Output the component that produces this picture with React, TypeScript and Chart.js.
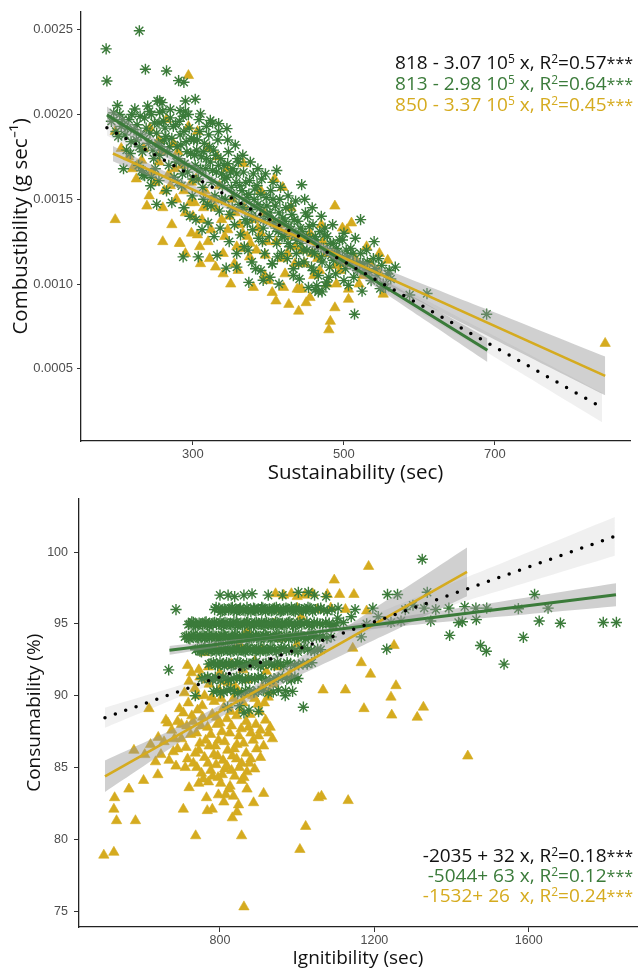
import React, { useEffect, useRef } from "react";
import { Chart, registerables } from "chart.js";
Chart.register(...registerables);

const GREEN = "#3b7b3a";
const GOLD = "#d5ab1f";
const BLACK = "#111111";

// ---------------- TOP PANEL DATA ----------------
const TOP_X_RANGE = [151.7, 878.9];
const TOP_Y_RANGE = [0.0000741, 0.002606];
const TOP_X_TICKS = [300, 500, 700];
const TOP_X_LABELS = ["300", "500", "700"];
const TOP_Y_TICKS = [0.0005, 0.001, 0.0015, 0.002, 0.0025];
const TOP_Y_LABELS = ["0.0005", "0.0010", "0.0015", "0.0020", "0.0025"];

const TOP_GREEN: number[][] = [
  [185, 0.002387], [186, 0.002198], [229, 0.002494], [237, 0.002267], [265, 0.002257], [281, 0.0022], [288, 0.00219],
  [200, 0.002053], [223, 0.002033], [242, 0.002018], [256, 0.00208], [259, 0.00207], [256, 0.002013], [283, 0.002023],
  [290, 0.00202], [290, 0.00208], [303, 0.00209], [310, 0.002004], [323, 0.001965], [334, 0.001946], [345, 0.001917],
  [444, 0.001586], [252, 0.00147], [234, 0.001644], [411, 0.00167], [232, 0.00167], [245, 0.00163], [255, 0.00161],
  [287, 0.00116], [307, 0.00116], [332, 0.00117], [344, 0.001094], [358, 0.0011], [374, 0.00101], [393, 0.001022],
  [383, 0.00109], [405, 0.00112], [433, 0.00105], [462, 0.000966], [514, 0.000822], [506, 0.000993], [524, 0.000958],
  [689, 0.000822], [610, 0.000944], [587, 0.000935], [560, 0.00108], [548, 0.000973], [521, 0.00112], [477, 0.001012],
  [471, 0.000954], [522, 0.00138], [466, 0.000954], [464, 0.00099],
  [192, 0.00196], [198, 0.0019], [205, 0.00193], [210, 0.00188], [215, 0.00197], [218, 0.00184], [203, 0.002],
  [212, 0.00179], [222, 0.00191], [208, 0.00168],
  [225, 0.00185], [230, 0.00199], [233, 0.00178], [238, 0.00192], [241, 0.00183], [245, 0.002], [248, 0.00174],
  [252, 0.00189], [255, 0.00195], [258, 0.00181], [228, 0.0017], [236, 0.00164], [244, 0.00158], [250, 0.00168],
  [256, 0.00176], [260, 0.00202], [240, 0.00205], [253, 0.00208], [262, 0.00185],
  [263, 0.00192], [266, 0.00178], [268, 0.0017], [270, 0.00198], [272, 0.00186], [275, 0.00163], [277, 0.00194],
  [279, 0.00181], [281, 0.00174], [283, 0.00188], [285, 0.00158], [287, 0.00199], [289, 0.00171], [291, 0.00184],
  [293, 0.00166], [295, 0.00192], [297, 0.00177], [299, 0.00152], [265, 0.00155], [272, 0.00148], [280, 0.0016],
  [288, 0.00145], [296, 0.0014], [270, 0.00203], [282, 0.00196], [294, 0.002],
  [301, 0.00185], [303, 0.0017], [305, 0.00179], [307, 0.00162], [309, 0.0019], [311, 0.00175], [313, 0.00157],
  [315, 0.00183], [317, 0.00168], [319, 0.00147], [321, 0.00188], [323, 0.00172], [325, 0.0016], [327, 0.00179],
  [329, 0.00152], [331, 0.00166], [333, 0.00185], [335, 0.00143], [337, 0.00174], [339, 0.00158], [304, 0.00138],
  [312, 0.00132], [320, 0.00136], [328, 0.00128], [336, 0.00133], [308, 0.00197], [318, 0.00193], [326, 0.00195],
  [334, 0.0019],
  [341, 0.0017], [343, 0.0015], [345, 0.00163], [347, 0.00178], [349, 0.00141], [351, 0.00157], [353, 0.00168],
  [355, 0.00135], [357, 0.0016], [359, 0.00174], [361, 0.00147], [363, 0.00129], [365, 0.00155], [367, 0.00166],
  [369, 0.00138], [371, 0.00151], [373, 0.0012], [375, 0.00161], [377, 0.00144], [379, 0.00132], [346, 0.00185],
  [356, 0.00182], [366, 0.00176], [376, 0.00172], [348, 0.00125], [358, 0.00118], [368, 0.00122], [378, 0.00113],
  [381, 0.0015], [383, 0.00139], [385, 0.00158], [387, 0.00127], [389, 0.00145], [391, 0.00162], [393, 0.00133],
  [395, 0.00118], [397, 0.00151], [399, 0.0014], [401, 0.00128], [403, 0.00155], [405, 0.00112], [407, 0.00136],
  [409, 0.00146], [411, 0.00124], [413, 0.00131], [415, 0.0015], [417, 0.00118], [419, 0.00139], [386, 0.00168],
  [396, 0.00165], [406, 0.0016], [416, 0.00157], [390, 0.00108], [402, 0.00104], [414, 0.001],
  [421, 0.00128], [423, 0.00145], [425, 0.00115], [427, 0.00134], [429, 0.00122], [431, 0.00141], [433, 0.00109],
  [435, 0.00129], [437, 0.00118], [439, 0.00137], [441, 0.00103], [443, 0.00124], [445, 0.00131], [447, 0.00113],
  [449, 0.00142], [451, 0.0012], [453, 0.00098], [455, 0.00127], [457, 0.0011], [459, 0.00135], [426, 0.00152],
  [436, 0.00149], [448, 0.0015], [458, 0.00145],
  [461, 0.00118], [463, 0.00126], [466, 0.00105], [468, 0.00131], [471, 0.00113], [473, 0.00121], [476, 0.00099],
  [478, 0.00128], [481, 0.0011], [483, 0.00117], [486, 0.00124], [489, 0.00106], [492, 0.00119], [495, 0.00113],
  [498, 0.00126], [502, 0.00109], [505, 0.00116], [509, 0.00121], [513, 0.00104], [517, 0.00112], [470, 0.0014],
  [485, 0.00135], [500, 0.0013], [515, 0.00127],
  [522, 0.00118], [527, 0.00108], [531, 0.00113], [536, 0.00102], [541, 0.00109], [546, 0.00115], [552, 0.001],
  [558, 0.00106],
  [195, 0.00201], [201, 0.00187], [207, 0.00197], [213, 0.00192], [219, 0.002], [226, 0.00194], [231, 0.00188],
  [236, 0.00198], [243, 0.00189], [249, 0.00195], [254, 0.00183], [261, 0.00196], [217, 0.00177], [229, 0.00181],
  [247, 0.00179], [264, 0.00187], [269, 0.00181], [274, 0.00193], [278, 0.00172], [284, 0.00182], [288, 0.0019],
  [292, 0.00178], [298, 0.00186], [302, 0.00176], [306, 0.00185], [310, 0.00168], [314, 0.00178], [318, 0.00174],
  [322, 0.00181], [326, 0.00167], [330, 0.00176], [334, 0.0017], [338, 0.00165], [286, 0.00165], [300, 0.00162],
  [314, 0.0015], [324, 0.00146], [338, 0.0015], [342, 0.00162], [346, 0.00171], [350, 0.00166], [354, 0.00152],
  [358, 0.00165], [362, 0.00158], [366, 0.00145], [370, 0.0016], [374, 0.00153], [378, 0.0014], [382, 0.00156],
  [386, 0.00147], [390, 0.00153], [394, 0.00138], [398, 0.00146], [402, 0.00142], [406, 0.0015], [410, 0.00133],
  [414, 0.00142], [418, 0.00128], [352, 0.00145], [372, 0.00136], [392, 0.00125], [412, 0.00116], [360, 0.00172],
  [380, 0.00165], [422, 0.00137], [426, 0.00124], [430, 0.00132], [434, 0.00138], [438, 0.00126], [442, 0.00133],
  [446, 0.0012], [450, 0.00128], [454, 0.00134], [458, 0.00119], [462, 0.00128], [466, 0.00122], [470, 0.00116],
  [474, 0.00129], [478, 0.0012], [482, 0.00124], [486, 0.00114], [490, 0.00121], [494, 0.00126], [498, 0.00116],
  [503, 0.0012], [508, 0.00113], [512, 0.00118], [518, 0.00108], [440, 0.00112], [460, 0.00108], [480, 0.00104],
  [500, 0.00102], [430, 0.00146], [452, 0.0014], [475, 0.00133], [525, 0.00112], [530, 0.0012], [534, 0.00107],
  [539, 0.00115], [544, 0.00105], [550, 0.00111], [555, 0.00098], [562, 0.00103], [568, 0.0011], [540, 0.00125],
];

const TOP_GOLD: number[][] = [
  [197, 0.0019], [197, 0.00138], [243, 0.00192], [265, 0.00197], [294, 0.00223], [294, 0.00193], [306, 0.0019],
  [274, 0.00183], [226, 0.0017], [242, 0.00152], [239, 0.00146], [272, 0.00135], [282, 0.00124], [309, 0.00122],
  [306, 0.00129], [260, 0.00145], [283, 0.00124], [310, 0.00112], [322, 0.00115], [340, 0.00106], [364, 0.00121],
  [375, 0.00116], [396, 0.00117], [405, 0.00095], [400, 0.00102], [422, 0.00106], [427, 0.00088], [440, 0.00084],
  [450, 0.00089], [438, 0.00097], [444, 0.00097], [547, 0.00118], [488, 0.00086], [482, 0.00078], [480, 0.00073],
  [506, 0.00091], [506, 0.00097], [552, 0.00094], [846, 0.00065], [490, 0.00111], [488, 0.00146], [510, 0.00136],
  [498, 0.00133], [419, 0.00157], [408, 0.00162], [367, 0.00171], [332, 0.00175], [504, 0.00132], [441, 0.00097],
  [215, 0.00175], [225, 0.00162], [235, 0.0018], [250, 0.0016], [255, 0.00172], [262, 0.00155], [268, 0.00165],
  [278, 0.0015], [285, 0.0017], [290, 0.00142], [298, 0.0016], [302, 0.00148], [312, 0.00138], [316, 0.00155],
  [324, 0.00132], [330, 0.00145], [335, 0.00158], [342, 0.00128], [348, 0.0014], [352, 0.0015], [358, 0.00122],
  [362, 0.00135], [368, 0.00145], [372, 0.00128], [380, 0.00138], [384, 0.0012], [390, 0.0013], [394, 0.00142],
  [410, 0.00125], [415, 0.00135], [425, 0.00118], [430, 0.00128], [435, 0.00112], [445, 0.0012], [455, 0.0013],
  [460, 0.00105], [465, 0.00115], [472, 0.00125], [478, 0.001], [485, 0.00118], [495, 0.00108], [515, 0.00115],
  [525, 0.00105], [535, 0.00112], [320, 0.0018], [345, 0.00168], [390, 0.00155], [430, 0.00145], [470, 0.00135],
  [260, 0.00125], [290, 0.00118], [330, 0.0011], [350, 0.001], [380, 0.00098], [410, 0.0009], [298, 0.0013],
  [255, 0.00185], [280, 0.00178], [355, 0.00112],
  [205, 0.0018], [220, 0.00168], [232, 0.00173], [246, 0.00166], [258, 0.00178], [270, 0.00158], [276, 0.00168],
  [288, 0.00155], [296, 0.00148], [304, 0.00162], [314, 0.00145], [326, 0.0015], [338, 0.00138], [346, 0.00132],
  [356, 0.00142], [366, 0.0013], [376, 0.00124], [386, 0.00133], [398, 0.00125], [404, 0.00138], [418, 0.00115],
  [424, 0.0013], [436, 0.00122], [448, 0.00112], [458, 0.00118], [468, 0.00108], [476, 0.00118], [490, 0.001],
  [500, 0.00112], [520, 0.001], [530, 0.00122], [545, 0.00108], [558, 0.00114], [300, 0.0014], [320, 0.00125],
  [340, 0.00118], [360, 0.00108], [395, 0.00105], [420, 0.00098], [455, 0.00092],
];

const TOP_LINE_ALL_X = [186, 842];
const TOP_LINE_ALL_Y = [0.001922, 0.000271];
const TOP_LINE_GREEN_X = [186, 690];
const TOP_LINE_GREEN_Y = [0.001998, 0.00061];
const TOP_LINE_GOLD_X = [194, 846];
const TOP_LINE_GOLD_Y = [0.00177, 0.000458];

const TOP_BAND_ALL_X = [186, 300, 400, 500, 600, 700, 842];
const TOP_BAND_ALL_LO = [0.001877, 0.00161, 0.001371, 0.001102, 0.000835, 0.000568, 0.000184];
const TOP_BAND_ALL_HI = [0.001967, 0.00166, 0.001395, 0.001146, 0.000925, 0.000692, 0.000358];
const TOP_BAND_GREEN_X = [186, 300, 400, 500, 600, 690];
const TOP_BAND_GREEN_LO = [0.001948, 0.001659, 0.001394, 0.001108, 0.00081, 0.00054];
const TOP_BAND_GREEN_HI = [0.002048, 0.001709, 0.001424, 0.001158, 0.000906, 0.00068];
const TOP_BAND_GOLD_X = [194, 300, 400, 500, 600, 700, 846];
const TOP_BAND_GOLD_LO = [0.001725, 0.001529, 0.001336, 0.001122, 0.000898, 0.000672, 0.000344];
const TOP_BAND_GOLD_HI = [0.001815, 0.001585, 0.001376, 0.001186, 0.001008, 0.000832, 0.000572];

// ---------------- BOTTOM PANEL DATA ----------------
const BOT_X_RANGE = [434.7, 1880.4];
const BOT_Y_RANGE = [73.9, 103.73];
const BOT_X_TICKS = [800, 1200, 1600];
const BOT_X_LABELS = ["800", "1200", "1600"];
const BOT_Y_TICKS = [75, 80, 85, 90, 95, 100];
const BOT_Y_LABELS = ["75", "80", "85", "90", "95", "100"];

const BOT_GREEN: number[][] = [
  [686, 96.0], [667, 91.8], [821, 97.0], [862, 97.0], [1003, 97.2], [1029, 97.2], [1016, 89.2], [969, 90.0], [736, 90.0],
  [1324, 99.5], [1234, 97.05], [1260, 97.05], [1337, 97.2], [1615, 97.05], [1650, 96.1], [1573, 96.06], [1491, 96.1],
  [1463, 96.1], [1434, 96.2], [1393, 96.1], [1329, 96.1], [1359, 96.0], [1196, 96.1], [1106, 96.1], [1150, 96.0],
  [1627, 95.2], [1682, 95.05], [1793, 95.1], [1827, 95.1], [1464, 95.3], [1418, 95.1], [1428, 95.15], [1346, 95.2],
  [1586, 94.06], [1395, 94.2], [1475, 93.5], [1490, 93.1], [1536, 92.2], [1232, 93.25], [1166, 94.1], [1269, 95.2],
  [1243, 95.1], [1105, 95.4], [1120, 95.1], [1180, 95.0], [1210, 95.5], [1300, 96.3], [1280, 96.0], [1140, 95.5],
  [1090, 94.8], [1010, 94.2], [862, 88.8], [875, 89.0], [900, 88.9],
  [800, 97.0], [838, 96.9], [883, 97.1], [925, 97.0], [962, 97.0], [1045, 97.0], [1075, 96.9],
  [786, 96.0], [797, 96.1], [806, 95.9], [815, 96.0], [829, 96.1], [836, 95.9], [848, 96.0], [853, 96.1], [865, 95.9],
  [874, 96.0], [887, 96.1], [893, 95.9], [905, 96.0], [911, 96.1], [924, 96.0], [933, 95.9], [941, 96.1], [952, 96.0],
  [960, 95.9], [971, 96.1], [979, 96.0], [991, 95.9], [998, 96.1], [1011, 96.0], [1022, 95.9], [1033, 96.1], [1047, 96.0],
  [1061, 96.1], [1078, 95.9],
  [790, 96.15], [802, 95.85], [811, 96.05], [822, 95.95], [832, 96.15], [843, 95.85], [851, 96.05], [860, 95.95],
  [870, 96.15], [880, 95.85], [890, 96.05], [899, 95.95], [908, 96.15], [918, 95.85], [928, 96.05], [937, 95.95],
  [946, 96.15], [956, 95.85], [965, 96.05], [975, 95.95], [985, 96.15], [995, 95.85], [1005, 96.05], [1016, 95.95],
  [1028, 96.15], [1040, 95.85], [1054, 96.05], [1069, 95.95], [1090, 96.0],
  [722, 95.0], [731, 95.1], [743, 94.9], [750, 95.0], [761, 95.1], [768, 94.9], [779, 95.0], [786, 95.1], [797, 95.0],
  [804, 94.9], [813, 95.1], [824, 95.0], [831, 94.9], [842, 95.1], [849, 95.0], [858, 94.9], [869, 95.1], [876, 95.0],
  [887, 94.9], [894, 95.1], [903, 95.0], [914, 94.9], [921, 95.1], [932, 95.0], [939, 94.9], [948, 95.1], [959, 95.0],
  [966, 94.9], [977, 95.1], [986, 95.0], [996, 94.9], [1007, 95.1], [1018, 95.0], [1031, 94.9], [1044, 95.1],
  [1059, 95.0], [1074, 95.1], [1093, 94.9],
  [718, 94.95], [727, 95.15], [737, 94.85], [746, 95.05], [755, 94.95], [764, 95.15], [773, 94.85], [782, 95.05],
  [791, 94.95], [800, 95.15], [809, 94.85], [818, 95.05], [827, 94.95], [836, 95.15], [845, 94.85], [854, 95.05],
  [863, 94.95], [872, 95.15], [881, 94.85], [890, 95.05], [899, 94.95], [908, 95.15], [917, 94.85], [926, 95.05],
  [935, 94.95], [944, 95.15], [953, 94.85], [962, 95.05], [971, 94.95], [981, 95.15], [991, 94.85], [1001, 95.05],
  [1012, 94.95], [1025, 95.15], [1038, 94.85], [1052, 95.05], [1066, 94.95], [1083, 95.05], [1102, 95.0],
  [709, 94.1], [718, 94.0], [727, 94.2], [738, 94.1], [745, 94.0], [756, 94.2], [764, 94.1], [773, 94.0], [782, 94.2],
  [791, 94.1], [800, 94.0], [811, 94.2], [818, 94.1], [827, 94.0], [838, 94.2], [845, 94.1], [854, 94.0], [865, 94.2],
  [872, 94.1], [881, 94.0], [892, 94.2], [899, 94.1], [908, 94.0], [919, 94.2], [926, 94.1], [935, 94.0], [946, 94.2],
  [953, 94.1], [962, 94.0], [973, 94.2], [982, 94.1], [993, 94.0], [1004, 94.2], [1016, 94.1], [1029, 94.0],
  [1042, 94.2], [1058, 94.1], [1077, 94.0],
  [713, 94.15], [722, 93.95], [732, 94.25], [741, 94.05], [751, 94.15], [760, 93.95], [769, 94.25], [778, 94.05],
  [787, 94.15], [796, 93.95], [805, 94.25], [814, 94.05], [823, 94.15], [832, 93.95], [841, 94.25], [850, 94.05],
  [859, 94.15], [868, 93.95], [877, 94.25], [886, 94.05], [895, 94.15], [904, 93.95], [913, 94.25], [922, 94.05],
  [931, 94.15], [940, 93.95], [950, 94.25], [958, 94.05], [968, 94.15], [978, 93.95], [988, 94.25], [998, 94.05],
  [1010, 94.15], [1022, 93.95], [1036, 94.25], [1050, 94.05], [1067, 94.15], [1088, 94.1],
  [737, 93.2], [748, 93.1], [757, 93.3], [766, 93.2], [777, 93.1], [785, 93.3], [796, 93.2], [804, 93.1], [815, 93.3],
  [823, 93.2], [834, 93.1], [843, 93.3], [851, 93.2], [862, 93.1], [871, 93.3], [880, 93.2], [891, 93.1], [899, 93.3],
  [910, 93.2], [919, 93.1], [930, 93.3], [941, 93.2], [953, 93.1], [966, 93.3], [979, 93.2], [994, 93.1], [1010, 93.3],
  [1027, 93.2], [1045, 93.1], [1061, 93.2],
  [742, 93.25], [752, 93.05], [761, 93.35], [771, 93.15], [781, 93.25], [790, 93.05], [800, 93.35], [809, 93.15],
  [819, 93.25], [828, 93.05], [838, 93.35], [847, 93.15], [856, 93.25], [866, 93.05], [875, 93.35], [885, 93.15],
  [895, 93.25], [904, 93.05], [914, 93.35], [924, 93.15], [935, 93.25], [946, 93.05], [959, 93.35], [972, 93.15],
  [986, 93.25], [1002, 93.05], [1018, 93.35], [1036, 93.15], [1053, 93.25],
  [771, 92.2], [783, 92.3], [794, 92.1], [806, 92.2], [817, 92.3], [829, 92.1], [840, 92.2], [852, 92.3], [863, 92.1],
  [875, 92.2], [887, 92.3], [899, 92.1], [912, 92.2], [926, 92.3], [941, 92.1], [957, 92.2], [974, 92.3], [993, 92.1],
  [1015, 92.2], [1038, 92.3],
  [777, 92.25], [788, 92.15], [800, 92.35], [811, 92.05], [823, 92.25], [834, 92.15], [846, 92.35], [857, 92.05],
  [869, 92.25], [881, 92.15], [893, 92.35], [905, 92.05], [919, 92.25], [933, 92.15], [949, 92.35], [965, 92.05],
  [983, 92.25], [1004, 92.15], [1026, 92.2],
  [753, 91.2], [768, 91.3], [781, 91.1], [795, 91.2], [808, 91.3], [822, 91.1], [836, 91.2], [851, 91.3], [866, 91.1],
  [882, 91.2], [899, 91.3], [918, 91.1], [940, 91.2], [962, 91.3], [985, 91.1], [1002, 91.2],
  [760, 91.25], [774, 91.15], [788, 91.3], [801, 91.05], [815, 91.25], [829, 91.15], [843, 91.3], [858, 91.05],
  [874, 91.25], [890, 91.15], [908, 91.3], [929, 91.05], [951, 91.25], [973, 91.15], [994, 91.3],
  [783, 90.3], [801, 90.2], [818, 90.4], [837, 90.3], [856, 90.2], [877, 90.4], [899, 90.3], [925, 90.2], [951, 90.4],
  [988, 90.3], [820, 89.2], [850, 89.3],
  [792, 90.35], [810, 90.25], [828, 90.45], [846, 90.15], [866, 90.35], [888, 90.25], [912, 90.35], [938, 90.25],
  [970, 90.35],
];

const BOT_GOLD: number[][] = [
  [499, 78.9], [525, 79.1], [527, 82.9], [525, 82.1], [532, 81.3], [581, 81.3], [564, 83.5], [602, 84.1], [639, 84.5],
  [633, 85.4], [647, 85.9], [577, 86.2], [679, 86.1], [686, 85.1], [710, 85.0], [705, 82.1], [737, 80.25], [765, 82.9],
  [767, 82.0], [780, 82.1], [796, 83.1], [802, 83.9], [815, 83.1], [823, 83.5], [826, 83.7], [832, 81.5], [844, 81.9],
  [856, 80.25], [862, 75.3], [856, 84.1], [887, 82.55], [913, 83.2], [936, 87.0], [1007, 79.3], [1022, 80.9],
  [1055, 82.9], [616, 89.1], [716, 92.1], [1067, 90.4], [1442, 85.8], [1063, 83.0], [1132, 82.7],
  [1185, 99.0], [1096, 98.05], [1078, 97.05], [1110, 97.05], [1147, 97.05], [1052, 96.0], [1087, 96.1], [1125, 96.0],
  [1180, 95.9], [1251, 93.5], [1144, 93.3], [1166, 92.3], [1190, 91.5], [1256, 90.7], [1243, 89.9], [1125, 90.4],
  [1173, 89.1], [1245, 88.65], [1311, 88.5], [1327, 89.2],
  [944, 97.1], [965, 97.0], [985, 97.1], [1000, 96.9], [1020, 97.0], [1040, 97.1], [940, 96.0], [1000, 96.1],
  [720, 91.0], [735, 90.5], [748, 91.3], [760, 90.0], [772, 90.8], [785, 89.6], [798, 90.4], [810, 89.2], [822, 90.9],
  [835, 89.8], [848, 90.3], [860, 89.5], [872, 91.1], [885, 90.0], [898, 89.4], [910, 90.6], [925, 89.9], [940, 90.8],
  [705, 88.8], [718, 89.5], [730, 88.2], [742, 89.0], [755, 88.5], [768, 87.8], [780, 88.7], [792, 88.0], [805, 87.5],
  [818, 88.4], [830, 87.9], [843, 88.6], [855, 87.7], [868, 88.2], [880, 87.4], [893, 88.0], [905, 87.6], [918, 88.3],
  [930, 87.8],
  [700, 87.0], [712, 86.4], [724, 87.3], [736, 86.0], [748, 86.7], [760, 85.7], [772, 86.5], [784, 85.9], [796, 86.9],
  [808, 85.5], [820, 86.2], [832, 85.8], [844, 86.6], [856, 85.3], [868, 86.0], [880, 85.6], [895, 86.3],
  [740, 85.0], [752, 84.6], [776, 84.8], [790, 85.2], [812, 84.9], [838, 84.4], [850, 85.0], [870, 84.7],
  [690, 88.2], [695, 89.1], [665, 88.1], [682, 87.0], [660, 88.3], [675, 87.6], [745, 91.8], [770, 92.0], [800, 91.6],
  [830, 92.2], [860, 91.8], [890, 92.4], [920, 91.7], [950, 92.0], [980, 91.5], [760, 93.0], [790, 93.3], [850, 93.6],
  [910, 93.2], [960, 94.0], [1000, 93.6], [870, 94.5], [940, 95.0], [1010, 95.5],
  [708, 90.2], [726, 91.6], [741, 90.0], [754, 89.3], [766, 91.1], [779, 89.9], [791, 88.5], [803, 89.8], [815, 91.0],
  [828, 88.9], [840, 90.6], [853, 89.0], [866, 90.1], [878, 88.7], [890, 89.8], [903, 88.9], [915, 89.5], [928, 90.3],
  [700, 88.0], [714, 87.9], [727, 88.6], [739, 87.4], [751, 87.9], [763, 86.9], [776, 87.3], [788, 86.5], [800, 88.1],
  [812, 86.8], [825, 87.4], [837, 86.3], [849, 87.2], [861, 86.7], [874, 87.8], [886, 86.9], [900, 87.2], [913, 86.5],
  [926, 87.4], [716, 85.6], [731, 85.3], [745, 86.2], [757, 84.2], [769, 85.3], [781, 84.4], [794, 85.8], [806, 84.5],
  [818, 85.1], [830, 84.8], [843, 85.6], [862, 84.3], [876, 85.3], [890, 84.9], [905, 85.7], [720, 83.6], [745, 83.9],
  [770, 84.0], [795, 84.3], [810, 82.6], [835, 83.0], [848, 82.4], [870, 83.5], [655, 86.8], [668, 85.5], [690, 86.3],
  [640, 87.1], [620, 86.6], [605, 85.9],
];

const BOT_LINE_ALL_X = [502, 1823];
const BOT_LINE_ALL_Y = [88.47, 101.1];
const BOT_LINE_GREEN_X = [669, 1826];
const BOT_LINE_GREEN_Y = [93.16, 97.03];
const BOT_LINE_GOLD_X = [502, 1440];
const BOT_LINE_GOLD_Y = [84.39, 98.62];

const BOT_BAND_ALL_X = [502, 700, 900, 1100, 1300, 1500, 1823];
const BOT_BAND_ALL_LO = [87.77, 89.96, 91.97, 93.79, 95.45, 97.11, 99.75];
const BOT_BAND_ALL_HI = [89.17, 90.76, 92.57, 94.59, 96.75, 98.91, 102.45];
const BOT_BAND_GREEN_X = [669, 900, 1100, 1300, 1500, 1826];
const BOT_BAND_GREEN_LO = [92.86, 93.78, 94.4, 94.92, 95.44, 96.23];
const BOT_BAND_GREEN_HI = [93.46, 94.08, 94.8, 95.62, 96.44, 97.83];
const BOT_BAND_GOLD_X = [502, 700, 850, 1000, 1200, 1440];
const BOT_BAND_GOLD_LO = [83.29, 86.84, 89.27, 91.34, 93.88, 96.92];
const BOT_BAND_GOLD_HI = [85.49, 87.94, 90.07, 92.54, 96.08, 100.32];

// ---------------- ANNOTATION TEXT ----------------
// segment kinds: 0 normal, 1 superscript, 2 significance stars
const TOP_ANNOT = [
  { color: BLACK, segs: [["818 - 3.07 10", 0], ["5", 1], [" x, R", 0], ["2", 1], ["=0.57", 0], ["***", 2]] },
  { color: GREEN, segs: [["813 - 2.98 10", 0], ["5", 1], [" x, R", 0], ["2", 1], ["=0.64", 0], ["***", 2]] },
  { color: GOLD, segs: [["850 - 3.37 10", 0], ["5", 1], [" x, R", 0], ["2", 1], ["=0.45", 0], ["***", 2]] },
];
const BOT_ANNOT = [
  { color: BLACK, segs: [["-2035 + 32 x, R", 0], ["2", 1], ["=0.18", 0], ["***", 2]] },
  { color: GREEN, segs: [["-5044+ 63 x, R", 0], ["2", 1], ["=0.12", 0], ["***", 2]] },
  { color: GOLD, segs: [["-1532+ 26  x, R", 0], ["2", 1], ["=0.24", 0], ["***", 2]] },
];

const SEG_FONTS = [
  { font: "19px 'Open Sans'", dy: 0 },
  { font: "12px 'Open Sans'", dy: -6 },
  { font: "16px 'Open Sans'", dy: 0 },
];

function annotPlugin(lines: any[], rightX: number, baselines: number[]) {
  return {
    id: "annot",
    afterDraw(chart: any) {
      const ctx = chart.ctx;
      ctx.save();
      ctx.textBaseline = "alphabetic";
      ctx.textAlign = "left";
      lines.forEach((line, i) => {
        const segs = line.segs.map(([t, k]: any) => {
          ctx.font = SEG_FONTS[k].font;
          return { t, f: SEG_FONTS[k], w: ctx.measureText(t).width };
        });
        const total = segs.reduce((a: number, s: any) => a + s.w, 0);
        let x = rightX - total;
        segs.forEach((s: any) => {
          ctx.font = s.f.font;
          ctx.fillStyle = line.color;
          ctx.fillText(s.t, x, baselines[i] + s.f.dy);
          x += s.w;
        });
      });
      ctx.restore();
    },
  };
}

const xy = (xs: number[], ys: number[]) => xs.map((x, i) => ({ x, y: ys[i] }));
const pts = (a: number[][]) => a.map(([x, y]) => ({ x, y }));

function makeConfig(s: any): any {
  const datasets: any[] = [];
  s.lines.forEach((l: any) =>
    datasets.push({
      data: xy(l.xs, l.ys),
      borderColor: l.color,
      borderWidth: l.width,
      borderDash: l.dash || [],
      borderCapStyle: l.dash ? "round" : "butt",
      pointRadius: 0,
      fill: false,
      tension: 0,
      order: 0,
    })
  );
  s.bands.forEach((b: any) => {
    datasets.push({
      data: xy(b.xs, b.hi),
      borderWidth: 0,
      borderColor: "rgba(0,0,0,0)",
      pointRadius: 0,
      fill: "+1",
      backgroundColor: b.color,
      tension: 0.2,
      order: 1,
    });
    datasets.push({
      data: xy(b.xs, b.lo),
      borderWidth: 0,
      borderColor: "rgba(0,0,0,0)",
      pointRadius: 0,
      fill: false,
      tension: 0.2,
      order: 1,
    });
  });
  datasets.push({
    data: pts(s.green),
    showLine: false,
    pointStyle: "star",
    pointRadius: 5.6,
    pointBorderWidth: 1.4,
    pointBorderColor: GREEN,
    pointBackgroundColor: GREEN,
    order: 2,
  });
  datasets.push({
    data: pts(s.gold),
    showLine: false,
    pointStyle: "triangle",
    pointRadius: 6,
    pointBorderWidth: 0.6,
    pointBorderColor: GOLD,
    pointBackgroundColor: GOLD,
    order: 3,
  });

  const tickFont = { family: "'Liberation Sans', Arial, sans-serif", size: s.tickSize };
  const titleFont = { family: "'Open Sans', sans-serif", size: s.titleSize, lineHeight: 1.2 };

  return {
    type: "line",
    data: { datasets },
    plugins: [annotPlugin(s.annot, s.annotRight, s.annotBase)],
    options: {
      responsive: false,
      devicePixelRatio: 1,
      animation: false,
      events: [],
      layout: { padding: s.padding },
      plugins: { legend: { display: false }, tooltip: { enabled: false } },
      scales: {
        x: {
          type: "linear",
          position: "bottom",
          min: s.xRange[0],
          max: s.xRange[1],
          afterBuildTicks: (sc: any) => {
            sc.ticks = s.xTicks.map((v: number) => ({ value: v }));
          },
          afterFit: (sc: any) => {
            sc.height = s.xAxisH;
          },
          ticks: {
            callback: (_v: any, i: number) => s.xLabels[i],
            font: tickFont,
            color: "#4d4d4d",
            padding: s.xTickPad,
            maxRotation: 0,
            autoSkip: false,
          },
          grid: { display: true, drawOnChartArea: false, drawTicks: true, tickLength: s.tickLen, tickColor: "#333", tickWidth: 1 },
          border: { display: true, color: "#222", width: 1.3 },
          title: { display: true, text: s.xTitle, font: titleFont, color: BLACK, padding: { top: 0, bottom: s.xTitlePad } },
        },
        y: {
          type: "linear",
          position: "left",
          min: s.yRange[0],
          max: s.yRange[1],
          afterBuildTicks: (sc: any) => {
            sc.ticks = s.yTicks.map((v: number) => ({ value: v }));
          },
          afterFit: (sc: any) => {
            sc.width = s.yAxisW;
          },
          ticks: {
            callback: (_v: any, i: number) => s.yLabels[i],
            font: tickFont,
            color: "#4d4d4d",
            padding: s.yTickPad,
            autoSkip: false,
          },
          grid: { display: true, drawOnChartArea: false, drawTicks: true, tickLength: s.tickLen, tickColor: "#333", tickWidth: 1 },
          border: { display: true, color: "#222", width: 1.3 },
          title: { display: true, text: s.yTitle, font: titleFont, color: BLACK, padding: { top: s.yTitlePad, bottom: 0 } },
        },
      },
    },
  };
}

const BAND_DARK = "rgba(150,150,150,0.45)";
const BAND_LIGHT = "rgba(150,150,150,0.14)";

const TOP_SPEC = {
  green: TOP_GREEN,
  gold: TOP_GOLD,
  lines: [
    { xs: TOP_LINE_ALL_X, ys: TOP_LINE_ALL_Y, color: "#000", width: 3.5, dash: [0, 11] },
    { xs: TOP_LINE_GREEN_X, ys: TOP_LINE_GREEN_Y, color: GREEN, width: 3 },
    { xs: TOP_LINE_GOLD_X, ys: TOP_LINE_GOLD_Y, color: GOLD, width: 2.6 },
  ],
  bands: [
    { xs: TOP_BAND_GREEN_X, lo: TOP_BAND_GREEN_LO, hi: TOP_BAND_GREEN_HI, color: BAND_DARK },
    { xs: TOP_BAND_GOLD_X, lo: TOP_BAND_GOLD_LO, hi: TOP_BAND_GOLD_HI, color: BAND_DARK },
    { xs: TOP_BAND_ALL_X, lo: TOP_BAND_ALL_LO, hi: TOP_BAND_ALL_HI, color: BAND_LIGHT },
  ],
  xRange: TOP_X_RANGE,
  yRange: TOP_Y_RANGE,
  xTicks: TOP_X_TICKS,
  xLabels: TOP_X_LABELS,
  yTicks: TOP_Y_TICKS,
  yLabels: TOP_Y_LABELS,
  xTitle: "Sustainability (sec)",
  yTitle: "Combustibility (g sec\u207B\u00B9)",
  titleSize: 20.5,
  padding: { left: 0, right: 14, top: 7, bottom: 0 },
  yAxisW: 81,
  xAxisH: 44,
  tickLen: 4,
  tickSize: 13,
  xTickPad: 2,
  yTickPad: 4,
  xTitlePad: 0,
  yTitlePad: 8.7,
  annot: TOP_ANNOT,
  annotRight: 633,
  annotBase: [68.5, 89.5, 110.5],
};

const BOT_SPEC = {
  green: BOT_GREEN,
  gold: BOT_GOLD,
  lines: [
    { xs: BOT_LINE_ALL_X, ys: BOT_LINE_ALL_Y, color: "#000", width: 3.5, dash: [0, 11] },
    { xs: BOT_LINE_GREEN_X, ys: BOT_LINE_GREEN_Y, color: GREEN, width: 3 },
    { xs: BOT_LINE_GOLD_X, ys: BOT_LINE_GOLD_Y, color: GOLD, width: 2.6 },
  ],
  bands: [
    { xs: BOT_BAND_GREEN_X, lo: BOT_BAND_GREEN_LO, hi: BOT_BAND_GREEN_HI, color: BAND_DARK },
    { xs: BOT_BAND_GOLD_X, lo: BOT_BAND_GOLD_LO, hi: BOT_BAND_GOLD_HI, color: BAND_DARK },
    { xs: BOT_BAND_ALL_X, lo: BOT_BAND_ALL_LO, hi: BOT_BAND_ALL_HI, color: BAND_LIGHT },
  ],
  xRange: BOT_X_RANGE,
  yRange: BOT_Y_RANGE,
  xTicks: BOT_X_TICKS,
  xLabels: BOT_X_LABELS,
  yTicks: BOT_Y_TICKS,
  yLabels: BOT_Y_LABELS,
  xTitle: "Ignitibility (sec)",
  yTitle: "Consumability (%)",
  titleSize: 19,
  padding: { left: 0, right: 3, top: 10, bottom: 0 },
  yAxisW: 79,
  xAxisH: 43,
  tickLen: 5,
  tickSize: 12.5,
  xTickPad: 1,
  yTickPad: 6,
  xTitlePad: 0,
  yTitlePad: 23,
  annot: BOT_ANNOT,
  annotRight: 633,
  annotBase: [376.7, 396.7, 416.7],
};

export default function App() {
  const topRef = useRef<HTMLCanvasElement>(null);
  const botRef = useRef<HTMLCanvasElement>(null);
  useEffect(() => {
    const c1 = new Chart(topRef.current as HTMLCanvasElement, makeConfig(TOP_SPEC));
    const c2 = new Chart(botRef.current as HTMLCanvasElement, makeConfig(BOT_SPEC));
    return () => {
      c1.destroy();
      c2.destroy();
    };
  }, []);
  return (
    <div style={{ position: "absolute", left: 0, top: 0, width: 644, height: 970, background: "#fff" }}>
      <canvas ref={topRef} width={644} height={485} style={{ display: "block", width: 644, height: 485 }} />
      <canvas ref={botRef} width={644} height={485} style={{ display: "block", width: 644, height: 485 }} />
    </div>
  );
}
